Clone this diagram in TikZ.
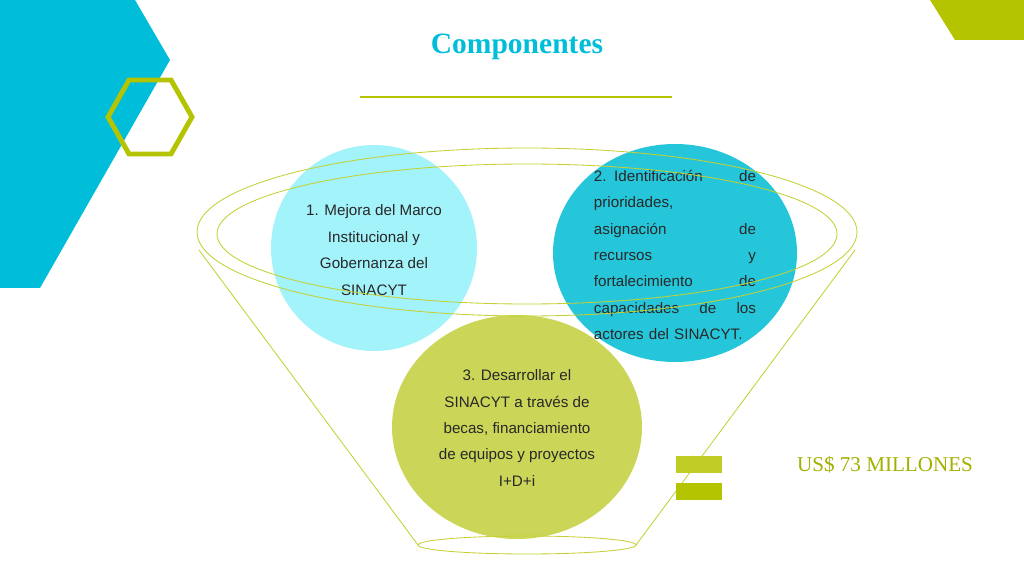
\documentclass[tikz,border=0pt]{standalone}
\usepackage{fontspec}
\setmainfont{Liberation Sans}
\newfontfamily\titlefont{Liberation Serif}
\definecolor{slidecyan}{RGB}{0,190,218}
\definecolor{slidelime}{RGB}{181,196,0}
\definecolor{lightcyan}{RGB}{140,240,250}
\definecolor{midcyan}{RGB}{0,188,212}
\definecolor{olivegreen}{RGB}{197,210,70}
\definecolor{textgray}{RGB}{40,40,40}
\tikzset{
  circtext/.style={align=center, text=textgray, font=\fontsize{10.8}{18.8}\selectfont},
  funnel/.style={draw=slidelime!80, line width=0.6pt}
}
\begin{document}
\begin{tikzpicture}[x=0.025cm, y=-0.025cm]
  \useasboundingbox (0,0) rectangle (1024,576);
  % background shapes
  \fill [slidecyan] (0,0) -- (135,0) -- (170,60) -- (40,288) -- (0,288) -- cycle;
  \fill [slidelime] (930,0) -- (1024,0) -- (1024,40) -- (955,40) -- cycle;
  \draw [slidelime, line width=3.5pt] (192,117) -- (171,154) -- (129,154) -- (108,117) -- (129,80) -- (171,80) -- cycle;

  \node [text=slidecyan, font=\titlefont\bfseries\fontsize{21}{26}\selectfont] (title) at (517,47) {Componentes};
  \draw [slidelime, line width=1.2pt] (360,97) -- (672,97);

  % circles
  \fill [lightcyan, opacity=0.8] (374,248) circle [radius=103];
  \fill [midcyan, opacity=0.85] (675,253) ellipse [x radius=122, y radius=109];
  \fill [olivegreen, opacity=0.9] (517,427) ellipse [x radius=125, y radius=112];

  \node [circtext] (c1) at (374,250) {1. Mejora del Marco\\Institucional y\\Gobernanza del\\SINACYT};
  \node [circtext, text width=4.05cm, align=left] (c2) at (675,255)
    {2. Identificación \hfill de\\
     prioridades,\\
     asignación \hfill de\\
     recursos \hfill y\\
     fortalecimiento \hfill de\\
     capacidades \hfill de \hfill los\\
     actores del SINACYT.};
  \node [circtext] (c3) at (517,428) {3. Desarrollar el\\SINACYT a través de\\becas, financiamiento\\de equipos y proyectos\\I+D+i};

  % funnel
  \draw [funnel] (527,232) ellipse [x radius=330, y radius=84];
  \draw [funnel] (527,234) ellipse [x radius=310, y radius=70];
  \draw [funnel] (199,250) -- (418,545);
  \draw [funnel] (855,250) -- (636,545);
  \draw [funnel] (527,545) ellipse [x radius=109, y radius=9];

  % legend
  \fill [slidelime!85] (676,456) rectangle (722,473);
  \fill [slidelime] (676,483) rectangle (722,500);
  \node [text=slidelime!90!black, font=\titlefont\fontsize{15}{18}\selectfont] (amount) at (885,465) {US\$ 73 MILLONES};
\end{tikzpicture}
\end{document}
